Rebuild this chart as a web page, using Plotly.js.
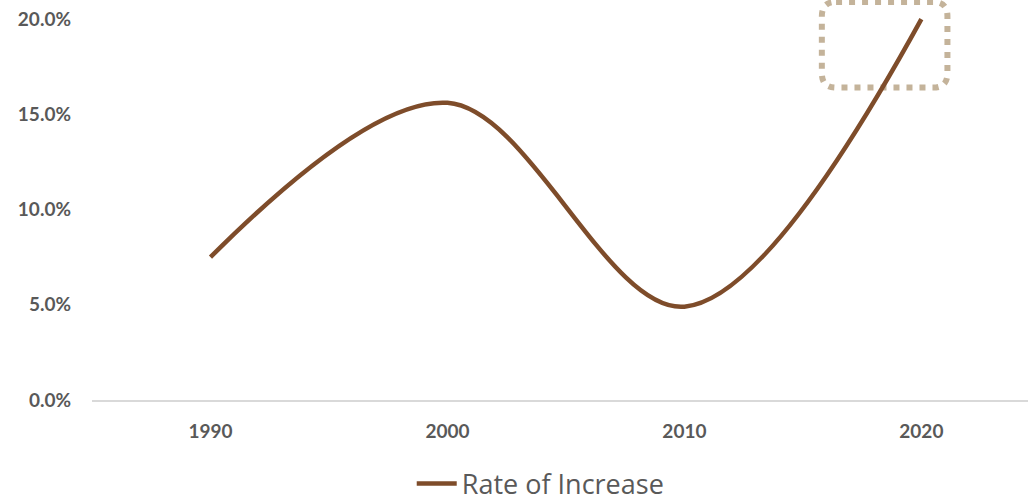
<!DOCTYPE html>
<html>
<head>
<meta charset="utf-8">
<script src="https://cdn.plot.ly/plotly-3.0.1.min.js"></script>
<style>html,body{margin:0;padding:0;background:#fff;}#chart{width:1028px;height:503px;}</style>
</head>
<body>
<div id="chart"></div>
<script>
const years = ['1990', '2000', '2010', '2020'];
const rateOfIncrease = [0.075, 0.156, 0.049, 0.200];
const seriesName = 'Rate of Increase';
const yTickVals = [0, 0.05, 0.10, 0.15, 0.20];

// highlight box around the last point (category index / value units)
const boxCenterX = 2.845, boxHalfW = 0.265;
const boxCenterY = 0.1865, boxHalfH = 0.0225;
const rx = 0.06, ry = 0.0075;

function roundedRect(cx, cy, hw, hh, rx, ry) {
  const x0 = cx - hw, x1 = cx + hw, y0 = cy - hh, y1 = cy + hh;
  return `M${x0 + rx},${y1} L${x1 - rx},${y1} Q${x1},${y1} ${x1},${y1 - ry} ` +
         `L${x1},${y0 + ry} Q${x1},${y0} ${x1 - rx},${y0} L${x0 + rx},${y0} ` +
         `Q${x0},${y0} ${x0},${y0 + ry} L${x0},${y1 - ry} Q${x0},${y1} ${x0 + rx},${y1} Z`;
}

const trace = {
  x: years,
  y: rateOfIncrease,
  type: 'scatter',
  mode: 'lines',
  name: seriesName,
  line: { color: '#7E4C2A', width: 4.5, shape: 'spline', smoothing: 1 },
  hoverinfo: 'skip'
};

const tickFont = { family: 'Lato, "Open Sans", sans-serif', size: 19, color: '#595959', weight: 'bold' };

const layout = {
  width: 1028, height: 503,
  margin: { l: 92, r: 0, t: 0, b: 103, autoexpand: false },
  paper_bgcolor: '#ffffff',
  plot_bgcolor: '#ffffff',
  showlegend: true,
  legend: {
    orientation: 'h',
    xref: 'container', yref: 'container',
    x: 0.526, xanchor: 'center', y: 0.038, yanchor: 'middle',
    font: { family: '"Open Sans", Lato, sans-serif', size: 27, color: '#595959' },
    itemwidth: 40
  },
  xaxis: {
    type: 'category',
    range: [-0.5, 3.45],
    showgrid: false, zeroline: false,
    showline: true, linecolor: '#D9D9D9', linewidth: 1.5,
    ticks: '', tickfont: tickFont, ticklabelstandoff: 14,
    automargin: false,
    fixedrange: true
  },
  yaxis: {
    range: [0, 0.21],
    tickvals: yTickVals,
    tickformat: '.1%',
    showgrid: false, zeroline: false, showline: false,
    ticks: '', tickfont: tickFont, ticklabelstandoff: 20,
    automargin: false,
    fixedrange: true
  },
  shapes: [{
    type: 'path', xref: 'x', yref: 'y',
    path: roundedRect(boxCenterX, boxCenterY, boxHalfW, boxHalfH, rx, ry),
    line: { color: '#C4B39A', width: 6, dash: '6px,7px' },
    fillcolor: 'rgba(0,0,0,0)',
    layer: 'below'
  }]
};

Plotly.newPlot('chart', [trace], layout, { displayModeBar: false, staticPlot: true });
</script>
</body>
</html>
